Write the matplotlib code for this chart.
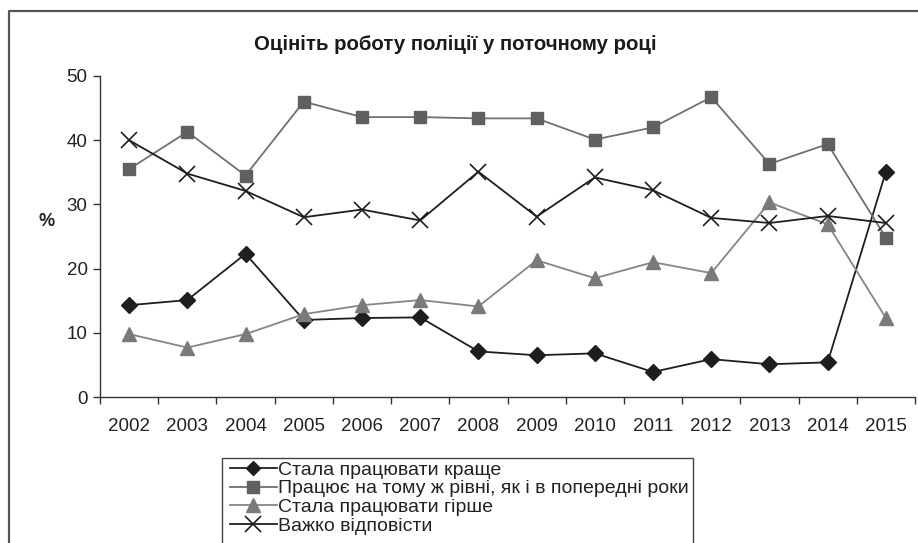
import numpy as np
import matplotlib.pyplot as plt
from matplotlib.lines import Line2D
from matplotlib.patches import Rectangle

years = ['2002', '2003', '2004', '2005', '2006', '2007', '2008',
         '2009', '2010', '2011', '2012', '2013', '2014', '2015']

better = [14.3, 15.1, 22.3, 12.0, 12.3, 12.4, 7.1, 6.5, 6.8, 3.9, 5.9, 5.1, 5.4, 35.1]
same = [35.5, 41.3, 34.5, 46.0, 43.6, 43.6, 43.4, 43.4, 40.1, 42.0, 46.7, 36.3, 39.4, 24.8]
worse = [9.8, 7.7, 9.8, 12.9, 14.3, 15.1, 14.1, 21.3, 18.5, 21.0, 19.3, 30.3, 26.9, 12.3]
hard = [40.0, 34.8, 32.1, 28.0, 29.2, 27.5, 35.1, 28.1, 34.2, 32.2, 27.9, 27.1, 28.2, 27.1]

labels = ['Стала працювати краще',
          'Працює на тому ж рівні, як і в попередні роки',
          'Стала працювати гірше',
          'Важко відповісти']

title = 'Оцініть роботу поліції у поточному році'

plt.rcParams['font.family'] = ['Liberation Sans', 'DejaVu Sans']

W, H = 918, 543
fig = plt.figure(figsize=(W / 100, H / 100), dpi=100)
ax = fig.add_axes([100 / W, 1 - 397 / H, 815 / W, 321 / H])

x = np.arange(len(years))
ax.plot(x, better, color='#1e1e1e', lw=1.3, marker='D', ms=8, mfc='#1e1e1e', mec='#1e1e1e')
ax.plot(x, same, color='#707070', lw=1.3, marker='s', ms=9, mfc='#606060', mec='#606060')
ax.plot(x, worse, color='#858585', lw=1.3, marker='^', ms=10.5, mfc='#7a7a7a', mec='#7a7a7a')
ax.plot(x, hard, color='#1e1e1e', lw=1.3, marker='x', ms=12, mew=1.2)

ax.set_xlim(-0.5, len(years) - 0.5)
ax.set_ylim(0, 50)
ax.set_yticks([0, 10, 20, 30, 40, 50])
ax.set_xticks(np.arange(-0.5, len(years)), minor=False)
ax.set_xticklabels([])
ax.set_xticks(x, minor=True)
ax.set_xticklabels(years, minor=True)
ax.tick_params(axis='x', which='major', direction='out', length=5, width=1, color='#333333')
ax.tick_params(axis='x', which='minor', length=0, pad=15, labelsize=13.5, labelcolor='#222222')
ax.tick_params(axis='y', direction='out', length=5, width=1, color='#333333',
               labelsize=13.5, labelcolor='#222222', pad=4)
for s in ['top', 'right']:
    ax.spines[s].set_visible(False)
for s in ['left', 'bottom']:
    ax.spines[s].set_color('#333333')
    ax.spines[s].set_linewidth(1)

fig.text(47 / W, 1 - 221 / H, '%', fontsize=13, fontweight='bold', ha='center', va='center',
         color='#222222')
fig.text(455 / W, 1 - 45 / H, title, fontsize=14.7, fontweight='bold', ha='center', va='center',
         color='#1a1a1a')

# outer frame (left and top edges visible)
fig.add_artist(Line2D([9 / W, 9 / W, 1.0], [0.0, 1 - 11 / H, 1 - 11 / H],
                      transform=fig.transFigure, color='#555555', lw=1.6))

# legend box running off the bottom of the picture
fig.add_artist(Rectangle((222 / W, -0.05), (693 - 222) / W, (1 - 458 / H) + 0.05,
                         transform=fig.transFigure, fill=False, ec='#444444', lw=1))
handles = [
    Line2D([], [], color='#1e1e1e', lw=1.3, marker='D', ms=7.5, mfc='#1e1e1e', mec='#1e1e1e'),
    Line2D([], [], color='#707070', lw=1.3, marker='s', ms=8.5, mfc='#606060', mec='#606060'),
    Line2D([], [], color='#858585', lw=1.3, marker='^', ms=9.5, mfc='#7a7a7a', mec='#7a7a7a'),
    Line2D([], [], color='#1e1e1e', lw=1.3, marker='x', ms=11, mew=1.2),
]
fig.legend(handles, labels, loc='upper left', bbox_to_anchor=(230 / W, 1 - 461 / H),
           frameon=False, fontsize=14, handlelength=2.4, handletextpad=0.08,
           labelspacing=0.06, borderpad=0, borderaxespad=0, labelcolor='#222222')

fig.savefig('out.png', dpi=100)
